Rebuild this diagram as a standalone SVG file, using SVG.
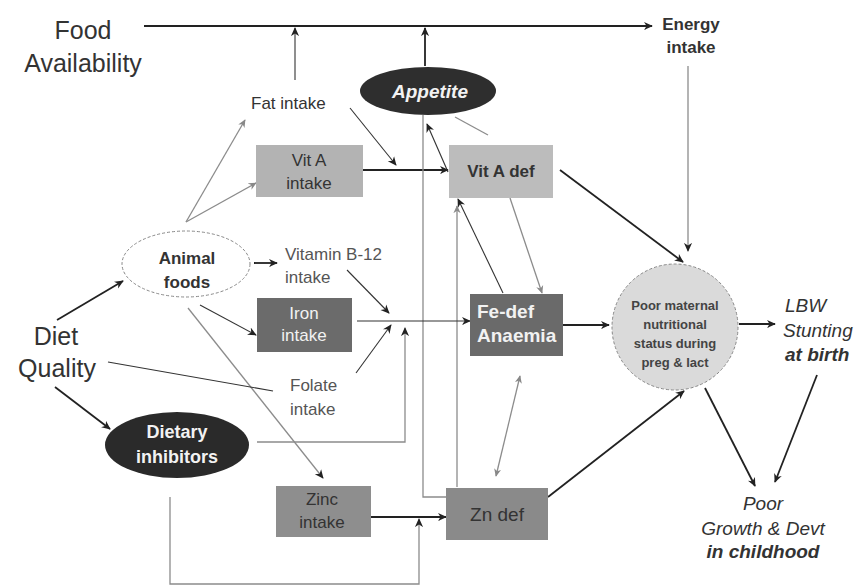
<svg xmlns="http://www.w3.org/2000/svg" width="867" height="586" viewBox="0 0 867 586">
<style>
text{font-family:"Liberation Sans",Arial,sans-serif}
.big{font-size:25px;fill:#333}
.lbl{font-size:17px;fill:#333}
.gray{font-size:17px;fill:#555}
.bold{font-weight:bold}
.wt{fill:#f2f2f2}
.it{font-style:italic}
.d{stroke:#222;stroke-width:1.8;fill:none}
.t{stroke:#333;stroke-width:1.1;fill:none}
.g{stroke:#8c8c8c;stroke-width:1.3;fill:none}
</style>
<defs>
<marker id="ad" viewBox="0 0 10 10" refX="9" refY="5" markerWidth="9" markerHeight="9" markerUnits="userSpaceOnUse" orient="auto"><path d="M0,0.5 L10,5 L0,9.5 L3,5 z" fill="#222"/></marker>
<marker id="ag" viewBox="0 0 10 10" refX="9" refY="5" markerWidth="8" markerHeight="8" markerUnits="userSpaceOnUse" orient="auto"><path d="M0,0.5 L10,5 L0,9.5 L3,5 z" fill="#888"/></marker>
<marker id="ags" viewBox="0 0 10 10" refX="1" refY="5" markerWidth="8" markerHeight="8" markerUnits="userSpaceOnUse" orient="auto"><path d="M10,0.5 L0,5 L10,9.5 L7,5 z" fill="#888"/></marker>
</defs>
<rect width="867" height="586" fill="#fff"/>

<g id="connectors">
<path class="d" d="M144,26 H652" marker-end="url(#ad)"/>
<path class="t" d="M295,80 V28" marker-end="url(#ad)"/>
<path class="d" d="M425,66 V28" marker-end="url(#ad)"/>
<path class="g" d="M688,66 V251" stroke="#777" marker-end="url(#ad)"/>
<path class="g" d="M186,222 L245,120" marker-end="url(#ag)"/>
<path class="g" d="M186,222 L256,183" marker-end="url(#ag)"/>
<path class="t" d="M350,108 L396,165" marker-end="url(#ad)"/>
<path class="d" d="M363,170 H448" marker-end="url(#ad)"/>
<path class="g" d="M455,117 L488,135"/>
<path class="g" d="M423,115 V497 H446"/>
<path class="t" d="M448,172 L427,124" marker-end="url(#ad)"/>
<path class="t" d="M503,293 L458,199" marker-end="url(#ad)"/>
<path class="g" d="M510,198 L542,293" marker-end="url(#ag)"/>
<path class="g" d="M457,487 V206" marker-end="url(#ag)"/>
<path class="d" d="M560,170 L683,262" marker-end="url(#ad)"/>
<path class="d" d="M57,320 L123,281" marker-end="url(#ad)"/>
<path class="d" d="M254,263 H277" marker-end="url(#ad)"/>
<path class="t" d="M200,305 L256,335" marker-end="url(#ad)"/>
<path class="g" d="M188,308 L323,478" stroke="#777" marker-end="url(#ad)"/>
<path class="t" d="M347,270 L389,313" marker-end="url(#ad)"/>
<path class="t" d="M356,373 L391,325" marker-end="url(#ad)"/>
<path class="t" d="M357,321 H470" marker-end="url(#ad)"/>
<path class="t" d="M108,362 L273,391"/>
<path class="d" d="M55,387 L110,429" marker-end="url(#ad)"/>
<path class="g" d="M257,442 H405 V328" stroke="#666" marker-end="url(#ad)"/>
<path class="g" d="M170,497 V584 H419 V519" stroke="#555" marker-end="url(#ad)"/>
<path class="d" d="M371,517 H446" marker-end="url(#ad)"/>
<path class="g" d="M496,476 L520,376" marker-start="url(#ags)" marker-end="url(#ag)"/>
<path class="d" d="M548,497 L684,391" marker-end="url(#ad)"/>
<path class="d" d="M563,325 H609" marker-end="url(#ad)"/>
<path class="d" d="M739,324 H775" marker-end="url(#ad)"/>
<path class="d" d="M817,375 L775,482" marker-end="url(#ad)"/>
<path class="d" d="M705,388 L755,486" marker-end="url(#ad)"/>
</g>

<g id="food-availability">
<text class="big" x="83" y="39" text-anchor="middle">Food</text>
<text class="big" x="83" y="72" text-anchor="middle">Availability</text>
</g>
<g id="energy-intake">
<text class="lbl bold" x="691" y="30" text-anchor="middle">Energy</text>
<text class="lbl bold" x="691" y="53" text-anchor="middle">intake</text>
</g>
<g id="appetite">
<ellipse cx="428" cy="91" rx="68" ry="24" fill="#2e2e2e"/>
<text class="lbl bold it wt" x="430" y="98" text-anchor="middle" style="font-size:19px">Appetite</text>
</g>
<g id="fat-intake">
<text class="lbl" x="251" y="109">Fat intake</text>
</g>
<g id="vit-a-intake">
<rect x="256" y="145" width="107" height="52" fill="#b3b3b3"/>
<text class="lbl" x="309" y="166" text-anchor="middle" fill="#444">Vit A</text>
<text class="lbl" x="309" y="189" text-anchor="middle" fill="#444">intake</text>
</g>
<g id="vit-a-def">
<rect x="449" y="145" width="104" height="53" fill="#bcbcbc"/>
<text class="lbl bold" x="501" y="177" text-anchor="middle" fill="#222">Vit A def</text>
</g>
<g id="diet-quality">
<text class="big" x="56" y="345" text-anchor="middle">Diet</text>
<text class="big" x="57" y="377" text-anchor="middle">Quality</text>
</g>
<g id="animal-foods">
<ellipse cx="186" cy="264" rx="64" ry="33" fill="#fff" stroke="#888" stroke-width="1" stroke-dasharray="3,2"/>
<text class="lbl bold" x="187" y="264" text-anchor="middle" fill="#222">Animal</text>
<text class="lbl bold" x="187" y="288" text-anchor="middle" fill="#222">foods</text>
</g>
<g id="vitamin-b12">
<text class="gray" x="285" y="260">Vitamin B-12</text>
<text class="gray" x="285" y="283">intake</text>
</g>
<g id="iron-intake">
<rect x="257" y="298" width="95" height="54" fill="#6b6b6b"/>
<text class="lbl wt" x="304" y="319" text-anchor="middle">Iron</text>
<text class="lbl wt" x="304" y="341" text-anchor="middle">intake</text>
</g>
<g id="folate-intake">
<text class="gray" x="290" y="391">Folate</text>
<text class="gray" x="290" y="415">intake</text>
</g>
<g id="fe-def">
<rect x="470" y="294" width="93" height="62" fill="#6a6a6a"/>
<text class="lbl bold wt" x="477" y="318" style="font-size:19px">Fe-def</text>
<text class="lbl bold wt" x="477" y="342" style="font-size:19px">Anaemia</text>
</g>
<g id="dietary-inhibitors">
<ellipse cx="177" cy="445" rx="72" ry="33" fill="#2a2a2a"/>
<text class="lbl bold wt" x="177" y="438" text-anchor="middle" style="font-size:18px">Dietary</text>
<text class="lbl bold wt" x="177" y="463" text-anchor="middle" style="font-size:18px">inhibitors</text>
</g>
<g id="zinc-intake">
<rect x="276" y="486" width="95" height="51" fill="#8e8e8e"/>
<text class="lbl" x="322" y="505" text-anchor="middle" fill="#555">Zinc</text>
<text class="lbl" x="322" y="528" text-anchor="middle" fill="#555">intake</text>
</g>
<g id="zn-def">
<rect x="446" y="488" width="102" height="52" fill="#8a8a8a"/>
<text class="lbl" x="497" y="521" text-anchor="middle" fill="#222" style="font-size:19px">Zn def</text>
</g>
<g id="maternal-status">
<circle cx="675" cy="327" r="63" fill="#dadada" stroke="#888" stroke-width="1" stroke-dasharray="3,2"/>
<text x="675" y="310" text-anchor="middle" style="font-size:13px;fill:#444;font-weight:600">Poor maternal</text>
<text x="675" y="329" text-anchor="middle" style="font-size:13px;fill:#444;font-weight:600">nutritional</text>
<text x="675" y="348" text-anchor="middle" style="font-size:13px;fill:#444;font-weight:600">status during</text>
<text x="675" y="367" text-anchor="middle" style="font-size:13px;fill:#444;font-weight:600">preg &amp; lact</text>
</g>
<g id="lbw">
<text class="lbl it" x="785" y="312" style="font-size:19px">LBW</text>
<text class="lbl it" x="783" y="337" style="font-size:19px">Stunting</text>
<text class="lbl it bold" x="785" y="361" style="font-size:19px">at birth</text>
</g>
<g id="poor-growth">
<text class="lbl it" x="763" y="510" text-anchor="middle" style="font-size:19px">Poor</text>
<text class="lbl it" x="763" y="535" text-anchor="middle" style="font-size:19px">Growth &amp; Devt</text>
<text class="lbl it bold" x="763" y="558" text-anchor="middle" style="font-size:19px">in childhood</text>
</g>
</svg>
